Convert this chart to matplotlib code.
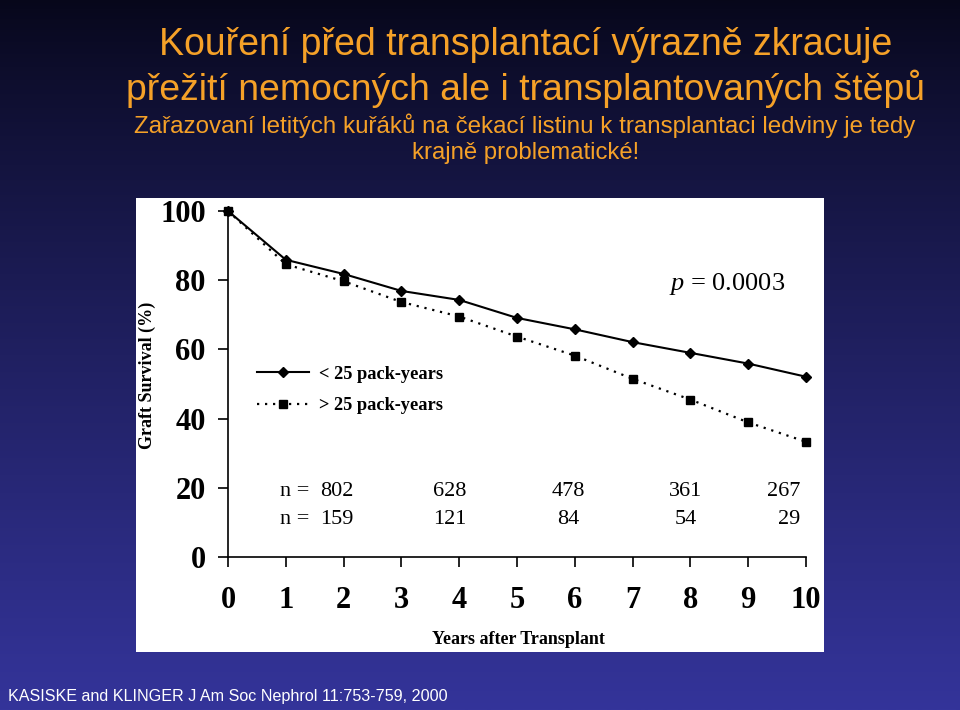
import numpy as np
import matplotlib
matplotlib.use('Agg')
import matplotlib.pyplot as plt
from matplotlib.patches import Rectangle
from matplotlib.colors import to_rgb

# ---------------- data ----------------
years = [0, 1, 2, 3, 4, 5, 6, 7, 8, 9, 10]
survival_low = [100, 85.9, 81.8, 76.9, 74.3, 69.1, 65.8, 62.1, 59.0, 55.9, 52.1]   # < 25 pack-years
survival_high = [100, 84.6, 79.7, 73.7, 69.5, 63.7, 58.2, 51.5, 45.5, 38.9, 33.3]  # > 25 pack-years
series_labels = ['< 25 pack-years', '> 25 pack-years']
y_ticks = [0, 20, 40, 60, 80, 100]
n_low = [802, 628, 478, 361, 267]
n_high = [159, 121, 84, 54, 29]
p_text = '0.0003'

title_lines = ['Kouření před transplantací výrazně zkracuje',
               'přežití nemocných ale i transplantovaných štěpů']
subtitle_lines = ['Zařazovaní letitých kuřáků na čekací listinu k transplantaci ledviny je tedy',
                  'krajně problematické!']
footer = 'KASISKE and KLINGER J Am Soc Nephrol 11:753-759, 2000'

# ---------------- figure ----------------
W, H = 960, 710
fig = plt.figure(figsize=(W / 100, H / 100), dpi=100)

# background gradient
bg = fig.add_axes([0, 0, 1, 1])
bg.axis('off')
top = np.array(to_rgb('#07071a'))
bot = np.array(to_rgb('#34349a'))
t = np.linspace(0, 1, 400) ** 0.85
grad = (top[None, :] * (1 - t[:, None]) + bot[None, :] * t[:, None])[:, None, :]
bg.imshow(grad, aspect='auto', extent=[0, 1, 0, 1], origin='upper')
bg.set_xlim(0, 1)
bg.set_ylim(0, 1)

# white panel
panel = Rectangle((136 / W, 1 - 652 / H), 688 / W, 454 / H, transform=fig.transFigure,
                  facecolor='white', edgecolor='none', zorder=1)
fig.add_artist(panel)

renderer = fig.canvas.get_renderer()


def fit_text(x_px, y_px, s, w_px, ha='center', **kw):
    txt = fig.text(x_px / W, 1 - y_px / H, s, ha=ha, va='center', fontsize=20, **kw)
    w = txt.get_window_extent(renderer).width
    txt.set_fontsize(20 * w_px / w)
    return txt


orange = '#F5A128'
sans = 'Liberation Sans'
fit_text(526, 45, title_lines[0], 733, color=orange, family=sans)
fit_text(526, 89, title_lines[1], 797, color=orange, family=sans)
fit_text(525, 126, subtitle_lines[0], 780, color=orange, family=sans)
fit_text(526, 153, subtitle_lines[1], 227, color=orange, family=sans)
fit_text(8, 697, footer, 438, ha='left', color='white', family=sans)

# ---------------- main axes ----------------
serif = 'Liberation Serif'
ax = fig.add_axes([228 / W, 1 - 557 / H, 578 / W, 346 / H])
ax.set_zorder(2)
ax.patch.set_alpha(0)

ax.plot(years, survival_low, '-', color='black', lw=1.5, marker='D', ms=5.5,
        clip_on=False, label=series_labels[0], zorder=4)
ax.plot(years, survival_high, linestyle=(0, (1, 2.6)), color='black', lw=1.6, marker='s', ms=6,
        clip_on=False, label=series_labels[1], zorder=3)

ax.set_xlim(0, 10)
ax.set_ylim(0, 100)
ax.set_xticks(years)
ax.set_yticks(y_ticks)
for s in ['top', 'right']:
    ax.spines[s].set_visible(False)
for s in ['left', 'bottom']:
    ax.spines[s].set_linewidth(1.2)
ax.tick_params(axis='y', direction='out', length=7, width=1.2, pad=9)
ax.tick_params(axis='x', direction='out', length=7, width=1.2, pad=14)
for lab in ax.get_xticklabels() + ax.get_yticklabels():
    lab.set_family(serif)
    lab.set_fontweight('bold')
    lab.set_fontsize(22)

fig.text(147 / W, 1 - 375 / H, 'Graft Survival (%)', rotation=90, ha='center', va='center',
         family=serif, fontweight='bold', fontsize=13)
fig.text(518 / W, 1 - 640 / H, 'Years after Transplant', ha='center', va='center',
         family=serif, fontweight='bold', fontsize=13)

leg = ax.legend(loc='upper left', bbox_to_anchor=(0.05, 0.553), frameon=False,
                handlelength=2.85, handletextpad=0.55, labelspacing=0.8, borderpad=0,
                borderaxespad=0, numpoints=1,
                prop={'family': serif, 'weight': 'bold', 'size': 13.2})

# p value
matplotlib.rcParams['mathtext.fontset'] = 'custom'
matplotlib.rcParams['mathtext.it'] = 'Liberation Serif:italic'
matplotlib.rcParams['mathtext.rm'] = 'Liberation Serif'
ax.text((669 - 228) / 578, (557 - 284) / 346, r'$p$ = ' + p_text, transform=ax.transAxes,
        ha='left', va='center', family=serif, fontsize=19)

# numbers at risk
n_x = [1.89, 3.84, 5.88, 7.92, 9.9]
n_ha = ['center', 'center', 'center', 'center', 'right']
row_y = [18.8, 10.7]
for ry, vals in zip(row_y, [n_low, n_high]):
    ax.text(0.9, ry, 'n =', ha='left', va='center', family=serif, fontsize=16)
    for xv, v, h in zip(n_x, vals, n_ha):
        ax.text(xv, ry, str(v), ha=h, va='center', family=serif, fontsize=16)

fig.savefig('out.png', dpi=100)
